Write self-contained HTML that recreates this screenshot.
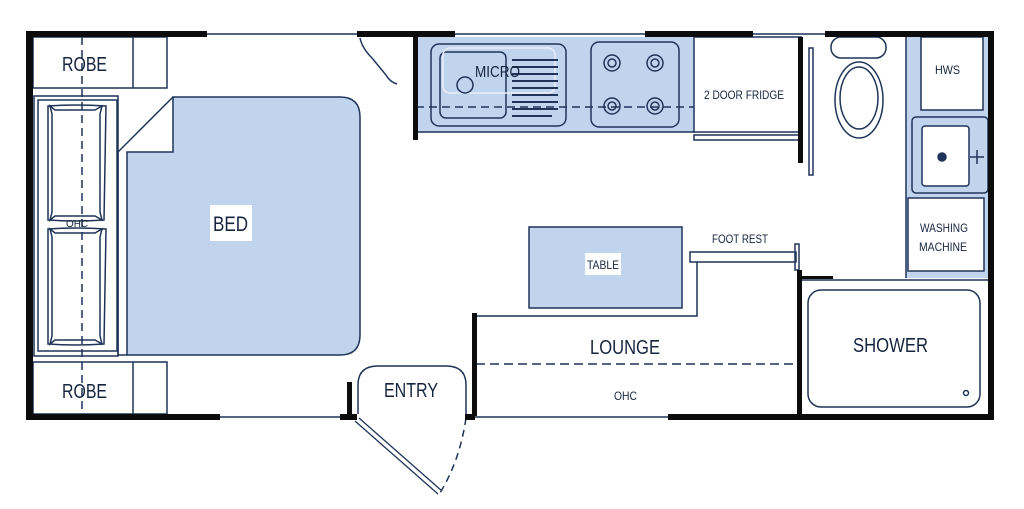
<!DOCTYPE html>
<html><head><meta charset="utf-8"><style>
html,body{margin:0;padding:0;background:#fff;}
svg{display:block;}
text{font-family:"Liberation Sans",sans-serif;fill:#16243f;}
</style></head><body>
<svg width="1024" height="509" viewBox="0 0 1024 509" xmlns="http://www.w3.org/2000/svg">
<g stroke="#1f3458" fill="none" stroke-width="1.5">
<!-- bed -->
<path d="M127,152 L173,152 L173,97 L340,97 Q360,97 360,117 L360,335 Q360,355 340,355 L127,355 Z" fill="#c1d4ee"/>
<path d="M173,97 L118,152 L118,355 L127,355"/>
<rect x="210" y="205" width="42" height="36" fill="#fff" stroke="none"/>
<!-- robes -->
<rect x="33" y="37" width="134" height="51"/>
<line x1="133" y1="37" x2="133" y2="88"/>
<rect x="33" y="362" width="134" height="52"/>
<line x1="133" y1="362" x2="133" y2="414"/>
<!-- ohc left -->
<rect x="34" y="96" width="84" height="260"/>
<rect x="38" y="100" width="79" height="251"/>
<path d="M50,106 L55,110 L95,110 L102,106 L100,114 L100,212 L102,220 L95,216 L55,216 L50,220 L52,212 L52,114 Z"/>
<path d="M48,106 Q75,104 106,106 L104,220 Q75,222 48,220 Z"/>
<path d="M50,229 L55,233 L95,233 L102,229 L100,237 L100,336 L102,344 L95,340 L55,340 L50,344 L52,336 L52,237 Z"/>
<path d="M48,229 Q75,227 106,229 L104,344 Q75,346 48,344 Z"/>
<line x1="82" y1="37" x2="82" y2="414" stroke-dasharray="8,5"/>
<!-- kitchen -->
<rect x="416" y="37" width="278" height="95" fill="#c1d4ee" stroke="none"/>
<line x1="416" y1="132" x2="694" y2="132"/>
<rect x="431" y="44" width="135" height="82" rx="8" fill="#c1d4ee"/>
<rect x="440" y="52" width="66" height="66" rx="6" fill="#c1d4ee"/>
<rect x="443" y="48" width="112" height="45" rx="7" stroke="#e8eef8" stroke-width="1.5"/>
<circle cx="465" cy="85" r="8"/>
<g stroke-width="2">
<line x1="512" y1="60" x2="558" y2="60"/><line x1="512" y1="67" x2="558" y2="67"/><line x1="512" y1="74" x2="558" y2="74"/><line x1="512" y1="81" x2="558" y2="81"/><line x1="512" y1="88" x2="558" y2="88"/><line x1="512" y1="95" x2="558" y2="95"/><line x1="512" y1="102" x2="558" y2="102"/><line x1="512" y1="109" x2="558" y2="109"/><line x1="512" y1="116" x2="552" y2="116"/>
</g>
<rect x="591" y="42" width="88" height="85" rx="8" fill="#c1d4ee"/>
<circle cx="612" cy="63" r="8"/><circle cx="612" cy="63" r="4"/>
<circle cx="655" cy="63" r="8"/><circle cx="655" cy="63" r="4"/>
<circle cx="612" cy="106" r="8"/><circle cx="612" cy="106" r="4"/>
<circle cx="655" cy="106" r="8"/><circle cx="655" cy="106" r="4"/>
<line x1="416" y1="107" x2="694" y2="107" stroke-dasharray="8,5"/>
<rect x="694" y="37" width="107" height="95"/>
<rect x="694" y="135" width="107" height="5"/>
<rect x="809" y="48" width="4" height="127"/>
<!-- toilet -->
<rect x="831" y="37" width="55" height="21" rx="10"/>
<ellipse cx="859" cy="100" rx="24" ry="38"/>
<ellipse cx="859" cy="98" rx="19" ry="31"/>
<!-- right column -->
<rect x="906" y="37" width="82" height="241" fill="#c1d4ee" stroke="none"/>
<line x1="906" y1="37" x2="906" y2="278"/>
<rect x="921" y="37" width="62" height="73" fill="#fff"/>
<rect x="912" y="117" width="76" height="76" rx="4" fill="#c1d4ee"/>
<rect x="922" y="126" width="47" height="60" rx="3" fill="#fff"/>
<circle cx="942" cy="157" r="4" fill="#1f3458"/>
<line x1="970" y1="157" x2="984" y2="157"/><line x1="977" y1="150" x2="977" y2="164"/>
<rect x="908" y="198" width="76" height="73" fill="#fff"/>
<line x1="801" y1="280" x2="988" y2="280"/>
<!-- foot rest -->
<rect x="690" y="252" width="106" height="10"/>
<rect x="795" y="244" width="4" height="26"/>
<!-- table / lounge -->
<rect x="529" y="227" width="153" height="81" fill="#c1d4ee"/>
<rect x="585" y="253" width="36" height="22" fill="#fff" stroke="none"/>
<path d="M476,316 L697,316 L697,262"/>
<line x1="476" y1="364" x2="800" y2="364" stroke-dasharray="9,5"/>
<!-- shower -->
<rect x="808" y="290" width="172" height="117" rx="13"/>
<circle cx="966" cy="393" r="2.5"/>
<!-- entry -->
<path d="M358,414 L358,385 Q358,366 378,366 L446,366 Q466,366 466,385 L466,414"/>
<path d="M355,421 L438,494 M359,418 L442,491" stroke-width="1.3"/>
<path d="M466,418 Q460,460 440,493" stroke-dasharray="7,5"/>
<!-- closet door swing -->
<path d="M360,38 Q362,48 372,58 L386,75 Q390,82 397,84"/>
<!-- windows -->
<line x1="207" y1="34" x2="357" y2="34"/>
<line x1="455" y1="34" x2="645" y2="34"/>
<line x1="753" y1="34" x2="825" y2="34"/>
<line x1="220" y1="417" x2="340" y2="417"/>
<line x1="475" y1="417" x2="668" y2="417"/>
</g>
<!-- thick walls -->
<g fill="#0c0c0c">
<rect x="26" y="31" width="181" height="6"/>
<rect x="357" y="31" width="98" height="6"/>
<rect x="645" y="31" width="108" height="6"/>
<rect x="825" y="31" width="169" height="6"/>
<rect x="26" y="31" width="7" height="389"/>
<rect x="988" y="31" width="6" height="389"/>
<rect x="26" y="414" width="194" height="6"/>
<rect x="340" y="414" width="17" height="6"/>
<rect x="465" y="414" width="10" height="6"/>
<rect x="668" y="414" width="326" height="6"/>
<rect x="347" y="382" width="5" height="34"/>
<rect x="472" y="313" width="5" height="103"/>
<rect x="413" y="37" width="5" height="103"/>
<rect x="798" y="37" width="5" height="126"/>
<rect x="797" y="270" width="5" height="146"/>
<rect x="801" y="276" width="32" height="3"/>
</g>
<!-- labels -->
<text x="62" y="71" font-size="20" textLength="45" lengthAdjust="spacingAndGlyphs">ROBE</text>
<text x="62" y="398" font-size="20" textLength="45" lengthAdjust="spacingAndGlyphs">ROBE</text>
<text x="66" y="227" font-size="10" textLength="22" lengthAdjust="spacingAndGlyphs" fill="#5a6b88">OHC</text>
<text x="213" y="231" font-size="21" textLength="35" lengthAdjust="spacingAndGlyphs">BED</text>
<text x="475" y="77" font-size="16" textLength="45" lengthAdjust="spacingAndGlyphs">MICRO</text>
<text x="704" y="99" font-size="12" textLength="80" lengthAdjust="spacingAndGlyphs">2 DOOR FRIDGE</text>
<text x="935" y="74" font-size="12" textLength="25" lengthAdjust="spacingAndGlyphs">HWS</text>
<text x="920" y="232" font-size="12" textLength="48" lengthAdjust="spacingAndGlyphs">WASHING</text>
<text x="919" y="251" font-size="12" textLength="48" lengthAdjust="spacingAndGlyphs">MACHINE</text>
<text x="712" y="243" font-size="12" textLength="56" lengthAdjust="spacingAndGlyphs">FOOT REST</text>
<text x="587" y="269" font-size="12" textLength="32" lengthAdjust="spacingAndGlyphs">TABLE</text>
<text x="590" y="354" font-size="20" textLength="70" lengthAdjust="spacingAndGlyphs">LOUNGE</text>
<text x="614" y="400" font-size="12" textLength="23" lengthAdjust="spacingAndGlyphs">OHC</text>
<text x="853" y="352" font-size="20" textLength="75" lengthAdjust="spacingAndGlyphs">SHOWER</text>
<text x="384" y="397" font-size="20" textLength="54" lengthAdjust="spacingAndGlyphs">ENTRY</text>
</svg>
</body></html>
